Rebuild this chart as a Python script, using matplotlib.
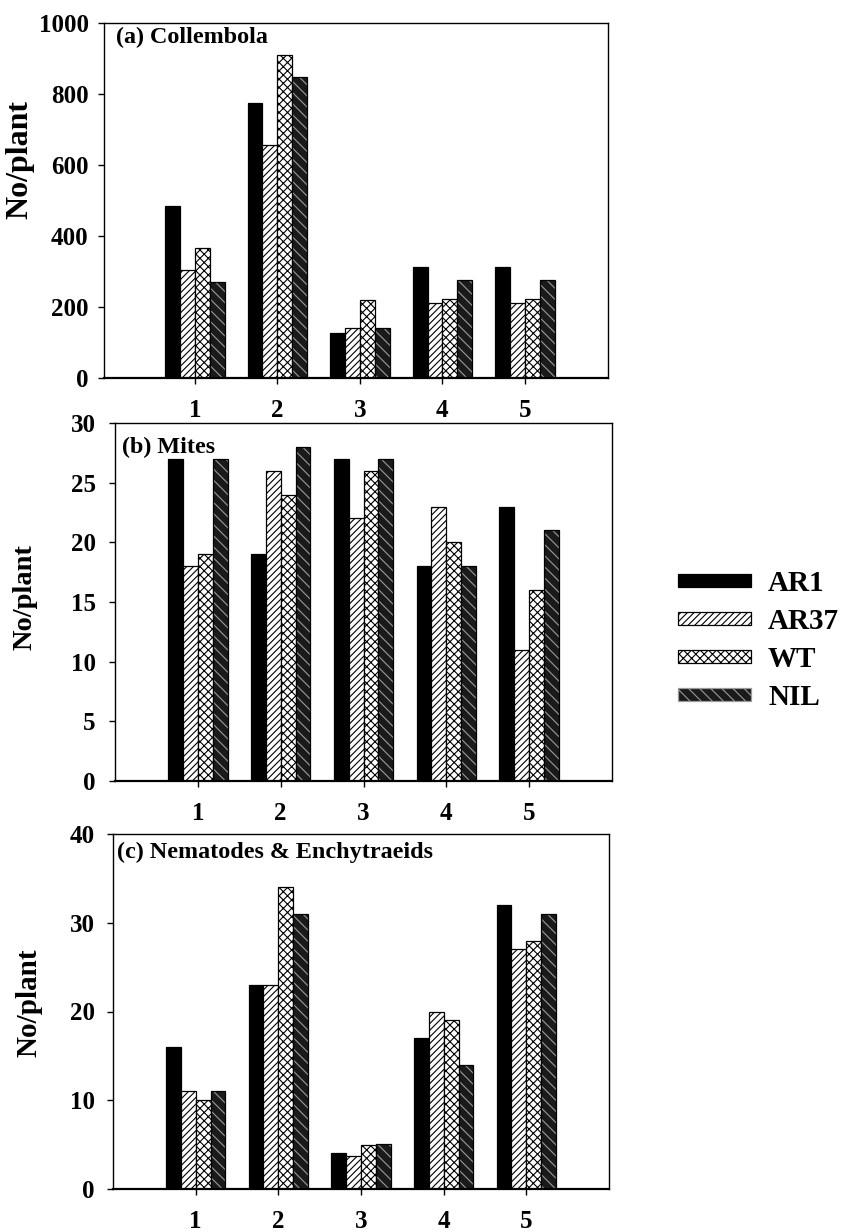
import numpy as np
import matplotlib
matplotlib.use("Agg")
import matplotlib.pyplot as plt
from matplotlib.patches import Patch

plt.rcParams['font.family'] = ['Liberation Serif', 'DejaVu Serif']
plt.rcParams['font.weight'] = 'bold'
plt.rcParams['hatch.linewidth'] = 0.8

sites = ["1", "2", "3", "4", "5"]
lines = ["AR1", "AR37", "WT", "NIL"]

collembola = {
    "AR1": [483, 774, 127, 312, 312],
    "AR37": [304, 656, 142, 212, 212],
    "WT": [366, 909, 219, 222, 222],
    "NIL": [269, 848, 141, 277, 277],
}
mites = {
    "AR1": [27, 19, 27, 18, 23],
    "AR37": [18, 26, 22, 23, 11],
    "WT": [19, 24, 26, 20, 16],
    "NIL": [27, 28, 27, 18, 21],
}
nematodes = {
    "AR1": [16, 23, 4.1, 17, 32],
    "AR37": [11, 23, 3.7, 20, 27],
    "WT": [10, 34, 5.0, 19, 28],
    "NIL": [11, 31, 5.1, 14, 31],
}

# face, hatch colour, hatch
styles = {
    "AR1": ("black", "black", None),
    "AR37": ("white", "black", "/////"),
    "WT": ("white", "black", "xxxx"),
    "NIL": ("#1a1a1a", "#9a9a9a", "\\\\\\"),
}

fig_w, fig_h = 847, 1232

# title, data, ymax, step, xlim, axes box in px (left, top, right, bottom),
# title offset px (x, y), ylabel size, ylabel right-edge px, ylabel centre frac, tick pad
panels = [
    ("(a) Collembola", collembola, 1000, 200, (-0.1, 6.0), (104, 22.7, 607.5, 378),
     (12, 4), 23, 34, 0.614, 7),
    ("(b) Mites", mites, 30, 5, (0.0, 6.0), (115, 423, 612, 781),
     (7, 14), 20.5, 37, 0.514, 10),
    ("(c) Nematodes & Enchytraeids", nematodes, 40, 10, (0.0, 6.0), (113, 834, 609, 1189),
     (4, 8), 21, 42, 0.524, 9),
]

fig = plt.figure(figsize=(fig_w / 100, fig_h / 100), dpi=100)
x = np.arange(1, len(sites) + 1)
w = 0.18

for title, data, ymax, ystep, xl, box, toff, ylsize, ylx, yly, ypad in panels:
    l, t, r, b = box
    ax = fig.add_axes([l / fig_w, 1 - b / fig_h, (r - l) / fig_w, (b - t) / fig_h])
    for i, name in enumerate(lines):
        fc, hc, hatch = styles[name]
        xs = x + (i - 1.5) * w
        ax.bar(xs, data[name], w, color=fc, edgecolor=hc, hatch=hatch, lw=0)
        ax.bar(xs, data[name], w, fill=False, edgecolor="black", lw=0.9)
    ax.set_xlim(*xl)
    ax.set_ylim(0, ymax)
    ax.set_yticks(np.arange(0, ymax + 1, ystep))
    ax.set_xticks(x)
    ax.set_xticklabels(sites)
    ax.tick_params(direction="out", length=4, width=1, labelsize=18)
    ax.tick_params(axis="y", pad=ypad)
    ax.tick_params(axis="x", pad=11)
    for s in ax.spines.values():
        s.set_linewidth(1.0)
    ax.spines["bottom"].set_linewidth(1.6)
    ax.set_ylabel("No/plant", fontsize=ylsize, fontweight="bold")
    ax.yaxis.set_label_coords((ylx - l) / (r - l), yly)
    ax.text(toff[0] / (r - l), 1 - toff[1] / (b - t), title, transform=ax.transAxes,
            fontsize=17.4, fontweight="bold", va="top", ha="left")

handles = [Patch(facecolor=styles[n][0], edgecolor="black", hatch=styles[n][2], lw=0.9)
           for n in lines]
handles[3] = Patch(facecolor="#1a1a1a", edgecolor="#9a9a9a", hatch="\\\\\\", lw=0.9)
fig.legend(handles, lines, loc="center left", bbox_to_anchor=(0.769, 0.48),
           frameon=False, fontsize=21, handlelength=2.5, handleheight=0.3,
           labelspacing=0.38, handletextpad=0.6)

fig.savefig("out.png", dpi=100)
